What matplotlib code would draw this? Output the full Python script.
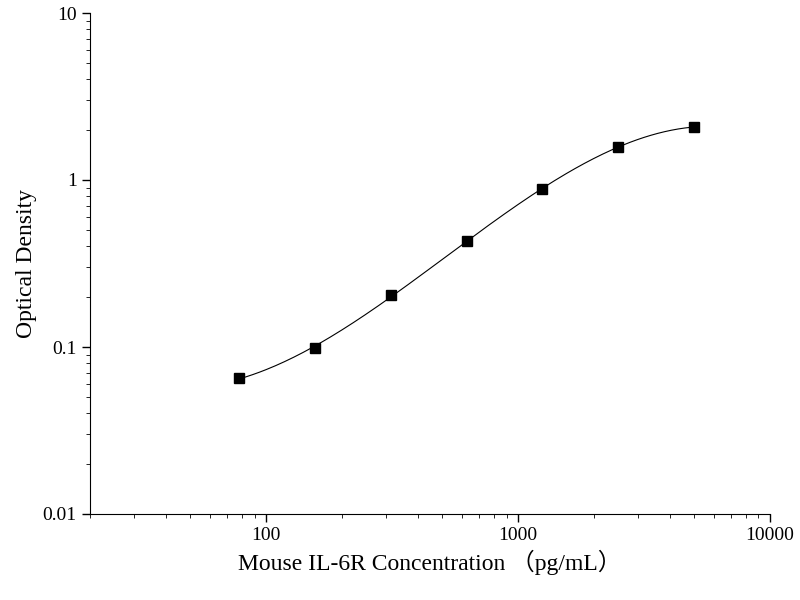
import matplotlib
matplotlib.use("Agg")
import matplotlib.pyplot as plt
import numpy as np

conc = [78, 156, 312, 625, 1250, 2500, 5000]
od = [0.065, 0.098, 0.205, 0.43, 0.88, 1.58, 2.08]

plt.rcParams['font.family'] = ['Liberation Serif', 'Noto Sans CJK SC']
fig = plt.figure(figsize=(8, 6), dpi=100)
ax = fig.add_axes([90/800, 1-514/600, 680/800, 501/600])

lx = np.log10(conc); ly = np.log10(od)
# smooth cubic through points in log space (drawing only)
from numpy.polynomial import polynomial as P
c = np.polyfit(lx, ly, 3)
xs = np.linspace(lx[0], lx[-1], 200)
ax.plot(10**xs, 10**np.polyval(c, xs), color='black', lw=0.8)
ax.plot(conc, od, 's', color='black', ms=7)

ax.set_xscale('log'); ax.set_yscale('log')
ax.set_xlim(20, 10000); ax.set_ylim(0.01, 10)
ax.set_xticks([100, 1000, 10000]); ax.set_xticklabels(['100', '1000', '10000'])
ax.set_yticks([0.01, 0.1, 1, 10]); ax.set_yticklabels(['0.01', '0.1', '1', '10'])
ax.spines['top'].set_visible(False); ax.spines['right'].set_visible(False)
ax.tick_params(which='major', length=6, width=1, labelsize=14)
ax.tick_params(which='minor', length=3)
ax.set_xlabel('Mouse IL-6R Concentration （pg/mL）', fontsize=17)
ax.set_ylabel('Optical Density', fontsize=17)
fig.savefig('out.png')
